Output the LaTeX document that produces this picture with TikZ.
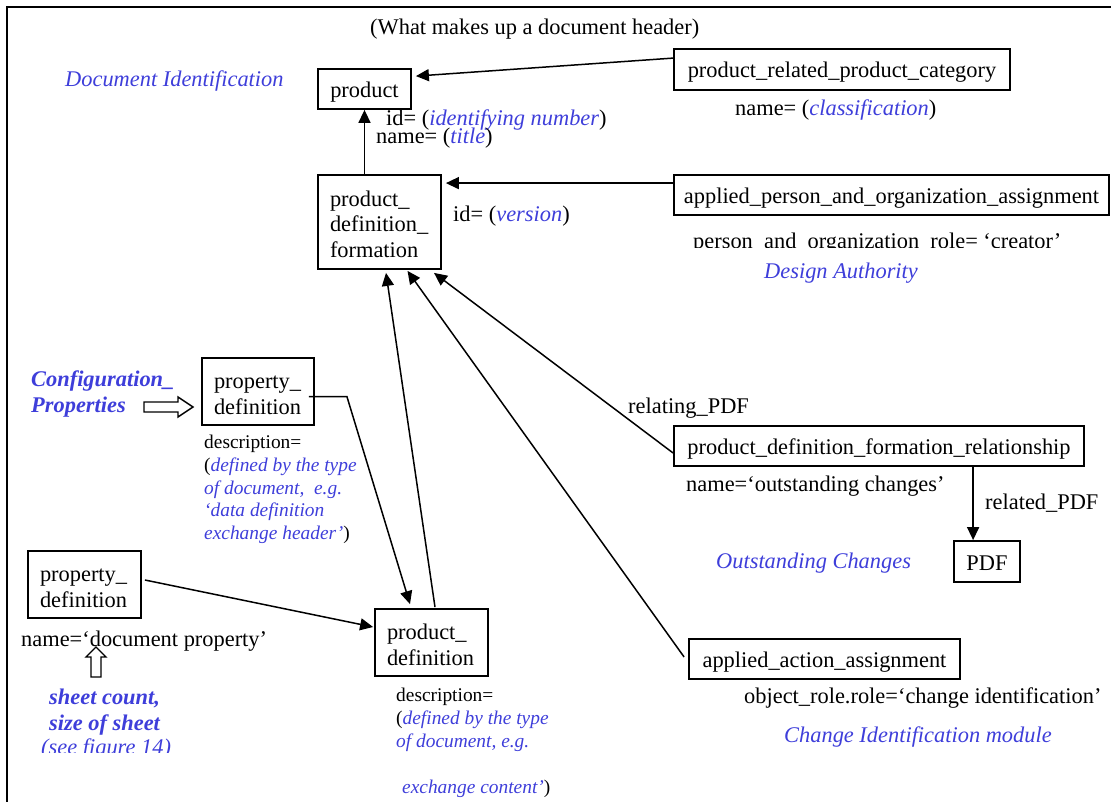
\documentclass[tikz,border=0pt]{standalone}
\usepackage{fontspec}
\setmainfont{Liberation Serif}
\usetikzlibrary{arrows.meta,calc}
\definecolor{noteblue}{RGB}{62,62,218}
\newcommand{\topstrut}{\rule{0pt}{20pt}}
\begin{document}
\begin{tikzpicture}[x=1pt,y=-1pt,
  font=\fontsize{22.4}{25.5}\selectfont,
  ebox/.style={draw,line width=1.8pt,inner sep=0pt,align=center,text height=17pt,text depth=0pt},
  mbox/.style={draw,line width=1.8pt,inner xsep=12pt,inner ysep=0pt,align=left},
  conn/.style={line width=1.5pt,-{Triangle[length=13pt,width=12pt]}},
  lab/.style={anchor=base west,inner sep=0pt},
  small/.style={font=\fontsize{19.4}{23.3}\selectfont},
  note/.style={text=noteblue,font=\fontsize{22.4}{25.5}\selectfont\itshape},
  bnote/.style={text=noteblue,font=\fontsize{22.4}{25.5}\selectfont\bfseries\itshape},
  hollow/.style={draw,line width=1.4pt,fill=white,line join=miter}]
\useasboundingbox (0,0) rectangle (1111,802);
% frame
\draw[line width=2.2pt] (1111,7) -- (7,7) -- (7,802);

% entities
\node[ebox,minimum width=93pt,minimum height=40pt] (product) at (364.5,89) {product};
\node[mbox,text width=99pt,minimum height=94pt] (pdff) at (379.5,222) {\topstrut product\_\\definition\_\\formation};
\node[ebox,minimum width=336pt,minimum height=41pt] (prpc) at (842,69.5) {product\_related\_product\_category};
\node[ebox,minimum width=435pt,minimum height=40pt] (apoa) at (891.5,195) {applied\_person\_and\_organization\_assignment};
\node[mbox,text width=88pt,minimum height=67pt] (propA) at (258,391.5) {\topstrut property\_\\definition};
\node[mbox,text width=89pt,minimum height=67pt] (propB) at (84.5,584.5) {\topstrut property\_\\definition};
\node[mbox,text width=89pt,minimum height=67pt] (pdef) at (431.5,642.5) {\topstrut product\_\\definition};
\node[ebox,minimum width=410pt,minimum height=40pt] (pdfr) at (879,446) {product\_definition\_formation\_relationship};
\node[ebox,minimum width=66pt,minimum height=41pt] (pdf) at (987,561.5) {PDF};
\node[ebox,minimum width=271pt,minimum height=40pt] (aaa) at (824.5,659) {applied\_action\_assignment};

% connectors
\draw[conn] ($(prpc.north west)+(0,10)$) -- ($(product.north east)+(4,8)$);
\draw[conn] ($(apoa.north west)+(0,9)$) -- ($(pdff.north east)+(4,9)$);
\draw[conn] (product.south |- pdff.north) -- (product.south);
\draw[conn] ($(pdef.north)+(3.5,-1)$) -- ($(pdff.south)+(6.5,3)$);
\draw[conn] ($(aaa.west)+(-4,-2)$) -- ($(pdff.south)+(28,1)$);
\draw[conn] ($(pdfr.west)+(0,7)$) -- ($(pdff.south)+(54.5,3)$);
\draw[conn] ($(propA.east)+(-6,5)$) -- ++(38,0) -- ($(pdef.north)+(-21.5,-4)$);
\draw[conn] ($(propB.east)+(3,-4.5)$) -- ($(pdef.west)+(-1,-15.5)$);
\draw[conn] ($(pdfr.south west)+(300,0)$) -- ($(pdf.north west)+(20,0)$);

% hollow pointers
\draw[hollow] (144,402) -- (178,402) -- (178,397) -- (193,407) -- (178,417) -- (178,412) -- (144,412) -- cycle;
\draw[hollow] (96,647) -- (106,657) -- (101,657) -- (101,677) -- (91,677) -- (91,657) -- (86,657) -- cycle;

% titles and attribute labels
\node[lab] (title) at (370,35) {(What makes up a document header)};
\node[lab,note] (docid) at (65,87) {Document Identification};
\node[lab] (idnum) at (386,126) {id= (\textcolor{noteblue}{\itshape identifying number})};
\node[lab] (ttl) at (376,144) {name= (\textcolor{noteblue}{\itshape title})};
\node[lab] (ver) at (453,222) {id= (\textcolor{noteblue}{\itshape version})};
\node[lab] (cls) at (735,116) {name= (\textcolor{noteblue}{\itshape classification})};
\begin{scope}
  \clip (680,215) rectangle (1070,247.5);
  \node[lab] (role) at (693,248.5) {person\_and\_organization\_role= ‘creator’};
\end{scope}
\node[lab,note] (design) at (764,279) {Design Authority};

\node[lab,bnote] (cfg1) at (31,386) {Configuration\_};
\node[lab,bnote] (cfg2) at (31,412) {Properties};

\node[lab,small] (dA1) at (204,448) {description=};
\node[lab,small] (dA2) at (204,471) {(\textcolor{noteblue}{\itshape defined by the type}};
\node[lab,small] (dA3) at (204,494) {\textcolor{noteblue}{\itshape of document,\ \ e.g.}};
\node[lab,small] (dA4) at (204,516.5) {\textcolor{noteblue}{\itshape ‘data definition}};
\node[lab,small] (dA5) at (204,539) {\textcolor{noteblue}{\itshape exchange header’})};

\node[lab] (docprop) at (21,646) {name=‘document property’};
\node[lab,bnote] (sh1) at (49,704) {sheet count,};
\node[lab,bnote] (sh2) at (49,730) {size of sheet};
\begin{scope}
  \clip (30,735) rectangle (200,752);
  \node[lab,note] (sh3) at (41,754) {(see figure 14)};
\end{scope}

\node[lab,small] (dB1) at (396,701) {description=};
\node[lab,small] (dB2) at (396,724) {(\textcolor{noteblue}{\itshape defined by the type}};
\node[lab,small] (dB3) at (396,747) {\textcolor{noteblue}{\itshape of document, e.g.}};
\node[lab,small] (dB5) at (402,793) {\textcolor{noteblue}{\itshape exchange content’})};

\node[lab] (rel1) at (628,413) {relating\_PDF};
\node[lab] (outn) at (686,491) {name=‘outstanding changes’};
\node[lab] (rel2) at (985,509) {related\_PDF};
\node[lab,note] (outc) at (716,568) {Outstanding Changes};
\node[lab] (objr) at (744,703) {object\_role.role=‘change identification’};
\node[lab,note] (chid) at (784,742) {Change Identification module};
\end{tikzpicture}
\end{document}
